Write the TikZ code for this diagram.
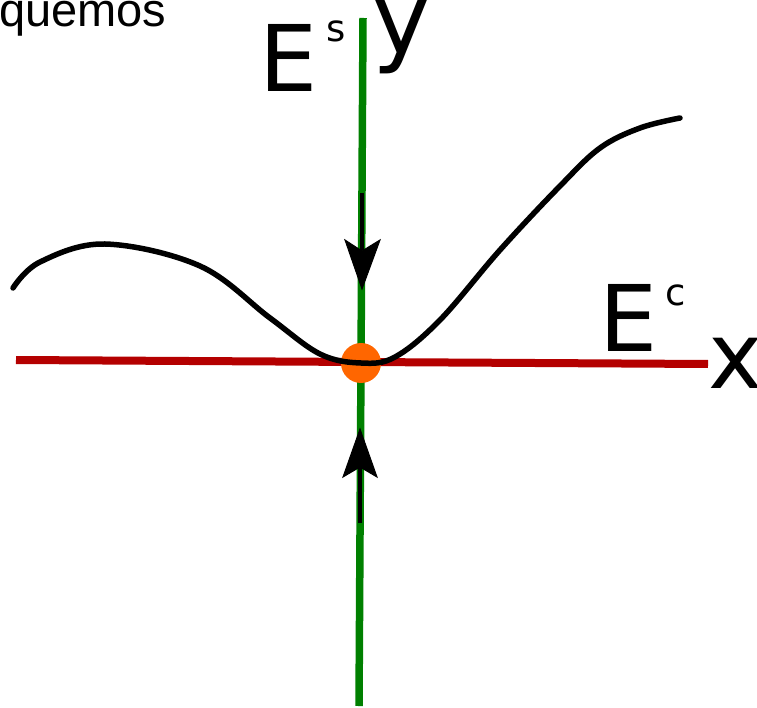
\documentclass[tikz,border=0pt]{standalone}
\usepackage{fontspec}
\setmainfont{DejaVu Sans}
\newfontfamily\arialfont{Liberation Sans}
\definecolor{axgreen}{RGB}{0,128,0}
\definecolor{axred}{RGB}{180,0,0}
\definecolor{dotorange}{RGB}{255,102,0}
\begin{document}
\begin{tikzpicture}[x=1pt,y=-1pt,
  lbl/.style={inner sep=0pt,outer sep=0pt,anchor=base west},
  big/.style={lbl,font=\fontsize{92}{92}\selectfont},
  small/.style={lbl,font=\fontsize{37}{37}\selectfont},
  arrhead/.style={fill=black,draw=black,line width=1pt,line join=miter},
  shaft/.style={black,line width=4.5pt}]
\useasboundingbox (0,0) rectangle (757,708);
% axes
\coordinate (xl) at (16,360);
\coordinate (xr) at (708,364);
\coordinate (yt) at (363,18);
\coordinate (yb) at (359,706);
\draw[axred,line width=8pt] (xl) -- (xr);
\draw[axgreen,line width=7.5pt] (yt) -- (yb);
% fixed point
\node[circle,fill=dotorange,minimum size=40pt,inner sep=0pt] (fp) at (361,363) {};
% curve
\draw[black,line width=5.5pt,line cap=round] plot[smooth,tension=0.6] coordinates
 {(13,288) (40,262) (105,244) (200,266) (270,318) (320,354) (361,363) (395,357) (440,320) (500,250) (560,186) (600,148) (640,128) (680,118)};
% arrows
\draw[shaft] (362,193) -- (362,250);
\filldraw[arrhead] (362,289) -- (345,240) -- (362,251) -- (380,240) -- cycle;
\draw[shaft] (360,523) -- (360,466);
\filldraw[arrhead] (360,429) -- (343,477) -- (360,467) -- (377,477) -- cycle;
% labels
\node[lbl,font=\arialfont\fontsize{47}{47}\selectfont] (q) at (-1,27) {quemos};
\node[big] (Es) at (259,92) {E};
\node[small] (s) at (326,42) {s};
\node[lbl,font=\fontsize{98}{98}\selectfont] (y) at (372,54) {y};
\node[big] (Ec) at (599,352) {E};
\node[small] (c) at (665,306) {c};
\node[big] (x) at (708,388) {x};
\end{tikzpicture}
\end{document}
